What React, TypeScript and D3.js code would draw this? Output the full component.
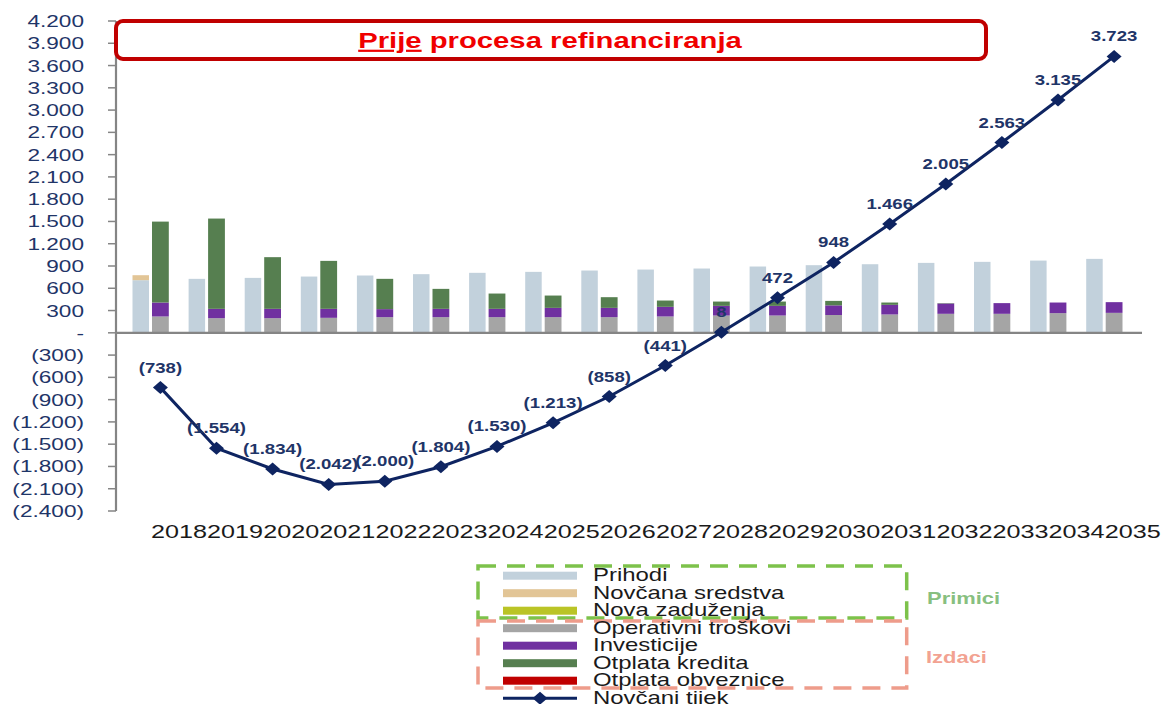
import React from "react";
import * as d3 from "d3";

const years = ["2018","2019","2020","2021","2022","2023","2024","2025","2026","2027","2028","2029","2030","2031","2032","2033","2034","2035"];
const prihodi = [709,727,740,758,772,790,808,821,839,852,866,893,911,924,942,956,973,996];
const novcanaSredstva = [67,0,0,0,0,0,0,0,0,0,0,0,0,0,0,0,0,0];
const novaZaduzenja = [0,0,0,0,0,0,0,0,0,0,0,0,0,0,0,0,0,0];
const operativniTroskovi = [220,197,197,202,211,211,211,211,211,220,233,233,240,247,256,256,265,269];
const investicije = [188,126,126,121,108,112,112,125,125,130,130,130,130,130,139,144,143,144];
const otplataKredita = [1090,1216,696,646,408,269,206,166,144,85,58,58,60,31,5,0,0,0];
const otplataObveznice = [0,0,0,0,0,0,0,0,0,0,0,0,0,0,0,0,0,0];
const novcaniTijek = [-738,-1554,-1834,-2042,-2000,-1804,-1530,-1213,-858,-441,8,472,948,1466,2005,2563,3135,3723];
const yTicks = [4200,3900,3600,3300,3000,2700,2400,2100,1800,1500,1200,900,600,300,0,-300,-600,-900,-1200,-1500,-1800,-2100,-2400];

const legendItems = [
  { name: "Prihodi", color: "#C2D1DC" },
  { name: "Novčana sredstva", color: "#E2C596" },
  { name: "Nova zaduženja", color: "#BAC426" },
  { name: "Operativni troškovi", color: "#A5A5A5" },
  { name: "Investicije", color: "#7030A0" },
  { name: "Otplata kredita", color: "#567F50" },
  { name: "Otplata obveznice", color: "#C00000" },
];

const FONT = '"Liberation Sans", Arial, Helvetica, sans-serif';
const SX = 1.33;
const NAVY = "#0E2461";

const fmt = (v: number) => {
  if (v === 0) return "-";
  const s = d3.format(",")(Math.abs(v)).replace(/,/g, ".");
  return v < 0 ? `(${s})` : s;
};

function ST(props: any) {
  const { x, y, children, anchor = "middle", size = 16, weight = "normal", fill = "#000", sx = SX, ...rest } = props;
  return (
    <text
      transform={`translate(${x},${y}) scale(${sx},1)`}
      textAnchor={anchor}
      fontSize={size}
      fontWeight={weight}
      fill={fill}
      fontFamily={FONT}
      {...rest}
    >
      {children}
    </text>
  );
}

export default function App() {
  const W = 1162, H = 704;
  const x = d3.scaleBand<string>().domain(years).range([122.45, 122.45 + 18 * 56.1]).padding(0);
  const bw = x.bandwidth();
  const y = d3.scaleLinear().domain([-2400, 4200]).range([511, 21]);
  const cx = (yr: string) => (x(yr) as number) + bw / 2;

  const leftRows = years.map((yr, i) => ({ yr, prihodi: prihodi[i], novcana: novcanaSredstva[i], nova: novaZaduzenja[i] }));
  const rightRows = years.map((yr, i) => ({ yr, op: operativniTroskovi[i], inv: investicije[i], kred: otplataKredita[i], obv: otplataObveznice[i] }));
  const leftStack = d3.stack<any>().keys(["prihodi", "novcana", "nova"])(leftRows);
  const rightStack = d3.stack<any>().keys(["op", "inv", "kred", "obv"])(rightRows);
  const leftColors = [legendItems[0].color, legendItems[1].color, legendItems[2].color];
  const rightColors = [legendItems[3].color, legendItems[4].color, legendItems[5].color, legendItems[6].color];

  const lx = (yr: string) => cx(yr) + 9.9;
  const linePts = years.map((yr, i) => [lx(yr), y(novcaniTijek[i])] as [number, number]);
  const linePath = d3.line()(linePts) as string;
  const diamond = (px: number, py: number, hw = 7.5, hh = 6.5) =>
    `M${px - hw},${py}L${px},${py - hh}L${px + hw},${py}L${px},${py + hh}Z`;

  const axisX = 116;
  const legY0 = 575.7, legStep = 17.5;

  return (
    <svg width={W} height={H} style={{ position: "absolute", left: 0, top: 0, background: "#fff" }}>
      <rect x={0} y={0} width={W} height={H} fill="#fff" />
      {leftStack.map((s, k) => (
        <g key={"l" + k} fill={leftColors[k]}>
          {s.map((d: any) => (
            d[1] - d[0] > 0 ? (
              <rect key={d.data.yr} x={cx(d.data.yr) - 18} width={16.5} y={y(d[1])} height={y(d[0]) - y(d[1])} />
            ) : null
          ))}
        </g>
      ))}
      {rightStack.map((s, k) => (
        <g key={"r" + k} fill={rightColors[k]}>
          {s.map((d: any) => (
            d[1] - d[0] > 0 ? (
              <rect key={d.data.yr} x={cx(d.data.yr) + 1.5} width={16.8} y={y(d[1])} height={y(d[0]) - y(d[1])} />
            ) : null
          ))}
        </g>
      ))}
      <line x1={axisX} x2={1142} y1={y(0)} y2={y(0)} stroke="#858585" strokeWidth={2.2} />
      <line x1={axisX} x2={axisX} y1={y(4200)} y2={y(-2400)} stroke="#858585" strokeWidth={2.2} />
      {yTicks.map((t) => (
        <g key={t}>
          <line x1={axisX - 8} x2={axisX} y1={y(t)} y2={y(t)} stroke="#858585" strokeWidth={1.5} />
          <ST x={84} y={y(t) + 6} anchor="end" size={17} fill="#1F3568">{fmt(t)}</ST>
        </g>
      ))}
      {years.map((yr) => (
        <ST key={yr} x={cx(yr) + 28.5} y={538} size={18} sx={1.4} fill="#1a1a1a">{yr}</ST>
      ))}
      <path d={linePath} fill="none" stroke={NAVY} strokeWidth={3} />
      {linePts.map((p, i) => (
        <path key={i} d={diamond(p[0], p[1])} fill={NAVY} />
      ))}
      {linePts.map((p, i) => (
        <ST key={"lab" + i} x={p[0]} y={p[1] - 15} size={14} weight="bold" fill="#1F3568">{fmt(novcaniTijek[i])}</ST>
      ))}
      <rect x={116} y={21} width={870} height={38} rx={7} fill="#fff" stroke="#C00000" strokeWidth={4} />
      <ST x={550} y={48} size={22} weight="bold" fill="#F00000">
        <tspan textDecoration="underline" style={{ textDecoration: "underline" }}>Prije</tspan>
        <tspan> procesa refinanciranja</tspan>
      </ST>
      <rect x={478} y={566} width={428.7} height={52} fill="none" stroke="#7DC24B" strokeWidth={3.5} strokeDasharray="18 11" />
      <rect x={478} y={621} width={428.7} height={67} fill="none" stroke="#EE9C8B" strokeWidth={3.5} strokeDasharray="18 11" />
      {legendItems.map((it, i) => (
        <g key={it.name}>
          <rect x={503} y={legY0 + i * legStep - 4} width={74} height={8} fill={it.color} />
          <ST x={593} y={legY0 + i * legStep + 5.5} anchor="start" size={18} fill="#1a1a1a">{it.name}</ST>
        </g>
      ))}
      <line x1={503} x2={577} y1={legY0 + 7 * legStep} y2={legY0 + 7 * legStep} stroke={NAVY} strokeWidth={3} />
      <path d={diamond(540, legY0 + 7 * legStep)} fill={NAVY} />
      <ST x={593} y={legY0 + 7 * legStep + 5.5} anchor="start" size={18} fill="#1a1a1a">Novčani tijek</ST>
      <ST x={927} y={604} anchor="start" size={16.5} weight="bold" fill="#88BF80">Primici</ST>
      <ST x={926} y={663} anchor="start" size={16.5} weight="bold" fill="#F2A291">Izdaci</ST>
    </svg>
  );
}
